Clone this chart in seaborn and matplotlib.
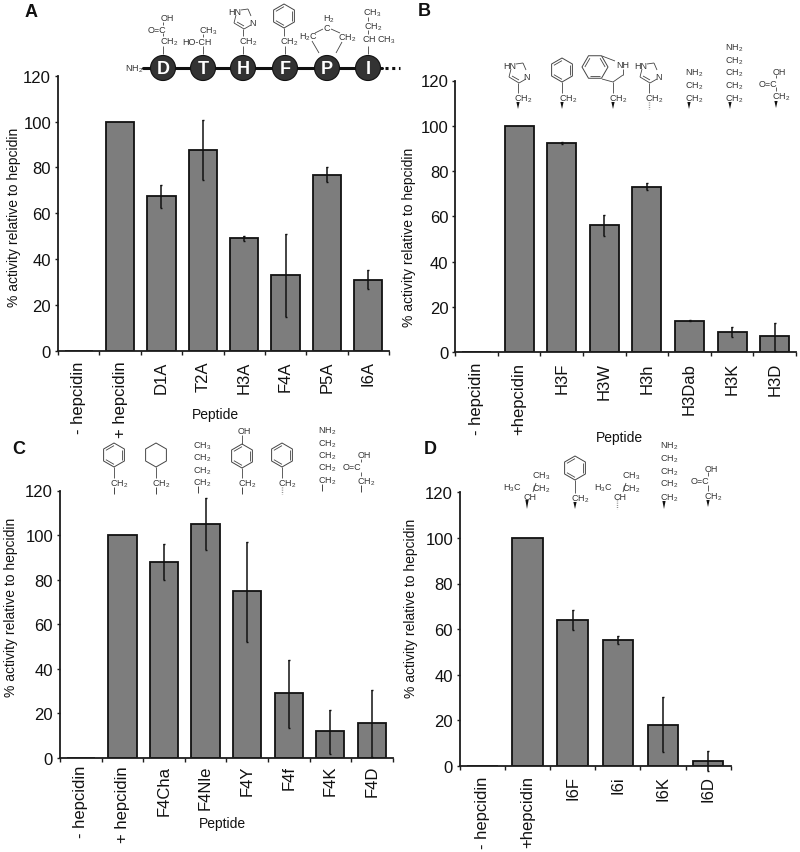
import matplotlib
matplotlib.use("Agg")
import matplotlib.pyplot as plt
import numpy as np
import pandas as pd
import seaborn as sns
from matplotlib.patches import Circle, Polygon

W, H = 800, 853

# panel data
a_names = ["- hepcidin", "+ hepcidin", "D1A", "T2A", "H3A", "F4A", "P5A", "I6A"]
a_values = [0, 100, 67.5, 87.5, 49, 33, 76.7, 31]
a_low = [None, None, 62.5, 74.5, 48, 14.6, 73.5, 27]
a_high = [None, None, 72.5, 100.9, 50.2, 51, 80, 35.2]

b_names = ["- hepcidin", "+hepcidin", "H3F", "H3W", "H3h", "H3Dab", "H3K", "H3D"]
b_values = [0, 100, 92.5, 56, 73, 14, 9, 7]
b_low = [None, None, 92, 51.3, 71.5, 13.8, 6.8, 0.4]
b_high = [None, None, 93, 60.7, 74.6, 14.2, 11.3, 13]

c_names = ["- hepcidin", "+ hepcidin", "F4Cha", "F4Nle", "F4Y", "F4f", "F4K", "F4D"]
c_values = [0, 100, 88, 105, 75, 29, 12, 15.5]
c_low = [None, None, 80, 93.5, 52, 13.5, 2, 0.3]
c_high = [None, None, 96, 116.5, 97, 44, 21.5, 30.5]

d_names = ["- hepcidin", "+hepcidin", "I6F", "I6i", "I6K", "I6D"]
d_values = [0, 100, 64, 55, 18, 2]
d_low = [None, None, 59.7, 53.3, 5.9, -2.5]
d_high = [None, None, 68.5, 57, 30.3, 6.6]

sns.set_theme(style="white")
plt.rcParams["font.family"] = ["Liberation Sans", "DejaVu Sans"]
plt.rcParams["mathtext.default"] = "regular"

fig = plt.figure(figsize=(W / 100, H / 100), dpi=100, facecolor="white")
INK = "#1c1c1c"


def panel(names, values, low, high, box, ylab_xy, xlab_xy=None, pad=7):
    # box is left, right, y of 120, y of 0 in image pixels
    left, right, top, bottom = box
    ax = fig.add_axes([left / W, 1 - bottom / H, (right - left) / W, (bottom - top) / H])
    df = pd.DataFrame({"peptide": names, "activity": values})
    sns.barplot(data=df, x="peptide", y="activity", color="#7d7d7d", saturation=1,
                width=0.68, edgecolor="#111111", linewidth=1.3, errorbar=None, ax=ax)
    for i, (lo, hi) in enumerate(zip(low, high)):
        if lo is None:
            continue
        ax.errorbar(i, values[i], yerr=[[values[i] - lo], [hi - values[i]]], color="#111111",
                    elinewidth=1.1, capsize=1, capthick=1, clip_on=False, zorder=5)
    n = len(names)
    ax.set_xlim(-0.5, n - 0.5)
    ax.set_ylim(0, 120)
    ax.set_yticks(range(0, 121, 20))
    ax.set_xticks(np.arange(-0.5, n), minor=True)
    ax.tick_params(axis="x", which="major", length=0, pad=pad, labelsize=12, labelcolor="#111111")
    ax.tick_params(axis="x", which="minor", bottom=True, length=3, width=1, color=INK)
    ax.tick_params(axis="y", left=True, length=2, width=1, pad=3, labelsize=12, color=INK,
                   labelcolor="#111111")
    for lab in ax.get_xticklabels():
        lab.set_rotation(90)
    sns.despine(ax=ax)
    for side in ["left", "bottom"]:
        ax.spines[side].set_color(INK)
        ax.spines[side].set_linewidth(1.3)
    ax.set_xlabel("")
    ax.set_ylabel("% activity relative to hepcidin", fontsize=10, color="#111111")
    # label anchors sit on the text's edge, so shift by half its height
    ax.yaxis.set_label_coords((ylab_xy[0] + 7 - left) / (right - left), (bottom - ylab_xy[1]) / (bottom - top))
    if xlab_xy:
        ax.set_xlabel("Peptide", fontsize=10, color="#111111")
        ax.xaxis.set_label_coords((xlab_xy[0] - left) / (right - left), (bottom - xlab_xy[1] + 7) / (bottom - top))
    return ax


panel(a_names, a_values, a_low, a_high, (58, 389, 76.8, 351.7), (14, 217), (215, 415))
panel(b_names, b_values, b_low, b_high, (455.3, 796, 81.5, 353.3), (409, 237), (619, 438))
panel(c_names, c_values, c_low, c_high, (60, 392.7, 491.5, 759), (11, 607), (222, 824), pad=5)
panel(d_names, d_values, d_low, d_high, (460, 730.7, 493.4, 766.7), (411, 608))

# overlay in image pixels for the panel letters and the side-chain drawings
ov = fig.add_axes([0, 0, 1, 1], zorder=10)
ov.set_xlim(0, W)
ov.set_ylim(H, 0)
ov.axis("off")
ov.patch.set_alpha(0)
CHEM = "#333333"


def t(x, y, s, size=6.5):
    ov.text(x, y, s, fontsize=size, color=CHEM, ha="center", va="center")


def bond(x0, y0, x1, y1, lw=0.6):
    ov.plot([x0, x1], [y0, y1], color="#444444", lw=lw, solid_capstyle="butt")


def ring6(cx, cy, r=12, double=True, start=-90):
    ang = np.radians(np.arange(6) * 60 + start)
    xs, ys = cx + r * np.cos(ang), cy + r * np.sin(ang)
    ov.add_patch(Polygon(np.c_[xs, ys], closed=True, fill=False, ec="#444444", lw=0.7))
    if double:
        for i in (1, 3, 5):
            j = (i + 1) % 6
            bond(cx + (xs[i] - cx) * 0.78, cy + (ys[i] - cy) * 0.78,
                 cx + (xs[j] - cx) * 0.78, cy + (ys[j] - cy) * 0.78, lw=0.6)


def imidazole(cx, cy):
    bond(cx - 2, cy - 10, cx + 5, cy - 11)
    bond(cx + 5, cy - 11, cx + 8, cy - 4)
    bond(cx + 8, cy + 5, cx + 1, cy + 9)
    bond(cx + 1, cy + 9, cx - 9, cy + 3)
    bond(cx - 9, cy + 3, cx - 7, cy - 5)
    bond(cx - 6, cy + 2, cx + 1, cy + 6)
    t(cx - 8, cy - 9, "HN")
    t(cx + 9, cy + 2, "N")


def wedge(x, y0, y1, dashed=False, plain=False):
    if plain:
        bond(x, y0, x, y1, lw=0.7)
    elif dashed:
        ov.plot([x, x], [y0, y1], color="#777777", lw=1, ls=(0, (0.6, 1)))
    else:
        ov.add_patch(Polygon([(x - 1.6, y0), (x + 1.6, y0), (x, y1)], closed=True, fc="#111111", ec="none"))


CH2 = "CH$_2$"
CH3 = "CH$_3$"
NH2 = "NH$_2$"

for x, y, s in [(31, 12, "A"), (424, 11, "B"), (19, 449, "C"), (430, 449, "D")]:
    ov.text(x, y, s, fontsize=13, fontweight="bold", color="#111111", ha="center", va="center")

# panel A, peptide backbone
ov.plot([143, 382], [69, 69], color="#111111", lw=2.2, zorder=2)
ov.plot([385, 400], [69, 69], color="#111111", lw=2.2, ls=(0, (1, 1.2)), zorder=2)
t(134, 69, NH2)
for x, s in zip([163, 203, 243, 285, 327, 368], "DTHFPI"):
    ov.add_patch(Circle((x, 69), 12.5, fc="#333333", ec="#111111", lw=0.8, zorder=3))
    ov.text(x, 69.5, s, fontsize=13, fontweight="bold", color="white", ha="center", va="center", zorder=4)
for x in [163, 203, 243, 285, 368]:
    bond(x, 47, x, 55)
t(167, 18, "OH"); t(157, 30, "O=C"); t(169, 42, CH2)
bond(163, 23, 163, 26); bond(163, 34, 163, 37)
t(208, 31, CH3); t(197, 42, "HO-CH"); bond(203, 35, 203, 38)
imidazole(243, 21); bond(243, 30, 243, 37); t(248, 42, CH2)
ring6(284, 17); bond(284, 29, 284, 37); t(289, 42, CH2)
t(329, 19, "H$_2$"); t(327, 28, "C")
t(308, 37, "H$_2$C"); t(347, 38, CH2)
bond(323, 30, 315, 34); bond(331, 30, 340, 34)
bond(312, 42, 319, 54); bond(342, 43, 336, 54)
t(372, 13, CH3); t(373, 27, CH2); t(379, 40, "CH CH$_3$")
bond(368, 18, 368, 22); bond(368, 31, 368, 35)

# panel B
imidazole(518, 75); bond(518, 84, 518, 94); t(523, 99, CH2); wedge(518, 103, 110)
ring6(562, 71); bond(562, 83, 562, 94); t(568, 99, CH2); wedge(562, 103, 110)
ring6(595, 68, 13, start=0)
bond(602, 57, 615, 62); bond(623, 70, 623, 76); bond(623, 76, 613, 83); bond(613, 83, 602, 80)
bond(613, 83, 613, 94)
t(623, 65, "NH"); t(618, 99, CH2); wedge(613, 103, 110)
imidazole(649, 75); bond(649, 84, 649, 94); t(654, 99, CH2); wedge(649, 103, 110, dashed=True)
t(694, 73, NH2)
for y in (86, 99):
    t(694, y, CH2)
wedge(689, 103, 110)
t(734, 48, NH2)
for y in (61, 73, 86, 99):
    t(734, y, CH2)
wedge(730, 103, 110)
t(779, 72, "OH"); t(768, 84, "O=C"); t(781, 97, CH2)
bond(776, 76, 776, 79); bond(776, 88, 776, 92); wedge(776, 102, 109)

# panel C
ring6(114, 456); bond(114, 468, 114, 479); t(119, 484, CH2); wedge(114, 488, 495, plain=True)
ring6(156, 456, double=False); bond(156, 468, 156, 479); t(161, 484, CH2); wedge(156, 488, 495, plain=True)
t(202, 446, CH3)
for y in (458, 471, 483):
    t(202, y, CH2)
wedge(198, 487, 494, plain=True)
t(244, 432, "OH"); ring6(242, 457); bond(242, 436, 242, 445); bond(242, 469, 242, 479)
t(247, 484, CH2); wedge(242, 488, 495, plain=True)
ring6(282, 456); bond(282, 468, 282, 479); t(287, 484, CH2); wedge(282, 488, 495, dashed=True)
t(327, 431, NH2)
for y in (444, 456, 468, 481):
    t(327, y, CH2)
wedge(322, 485, 492, plain=True)
t(364, 456, "OH"); t(352, 468, "O=C"); t(366, 482, CH2)
bond(361, 460, 361, 463); bond(361, 473, 361, 477); wedge(361, 486, 493, plain=True)

# panel D
t(541, 476, CH3); t(512, 488, "H$_3$C"); t(541, 489, CH2); t(530, 497, "CH")
bond(536, 484, 533, 493, lw=0.6); wedge(527, 501, 510)
ring6(575, 469); bond(575, 481, 575, 494); t(580, 499, CH2); wedge(575, 503, 510)
t(631, 476, CH3); t(603, 488, "H$_3$C"); t(631, 489, CH2); t(620, 497, "CH")
bond(626, 484, 623, 493, lw=0.6); wedge(617, 501, 510, dashed=True)
t(669, 446, NH2)
for y in (459, 472, 484, 498):
    t(669, y, CH2)
wedge(664, 502, 510)
t(711, 469, "OH"); t(700, 482, "O=C"); t(713, 497, CH2)
bond(708, 473, 708, 477); bond(708, 486, 708, 492); wedge(708, 501, 508)

fig.savefig("out.png", dpi=100)
